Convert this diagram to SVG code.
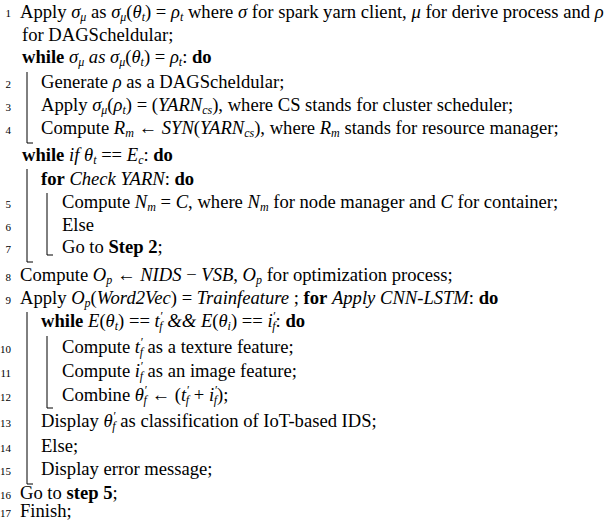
<svg xmlns="http://www.w3.org/2000/svg" width="612" height="520" viewBox="0 0 612 520">
<style>
text{font-family:"Liberation Serif","DejaVu Serif",serif;font-size:18.6px;fill:#000}
.n{font-size:11px;text-anchor:end}
.i{font-style:italic}
.b{font-weight:bold}
.s{font-size:12px}
.bar{fill:none;stroke:#000;stroke-width:1}
</style>
<rect width="612" height="520" fill="#fff"/>
<g id="bars">
<path class="bar" d="M27 72V143H33"/>
<path class="bar" d="M27 169V262H33"/>
<path class="bar" d="M47 193V255H53"/>
<path class="bar" d="M27 312V484H33"/>
<path class="bar" d="M47 336V408H53"/>
</g>
<g id="lines">
<text class="n" x="11" y="17">1</text>
<text x="20" y="18">Apply <tspan class="i">σ</tspan><tspan class="i s" dy="3">μ</tspan><tspan dy="-3"> as </tspan><tspan class="i">σ</tspan><tspan class="i s" dy="3">μ</tspan><tspan dy="-3">(</tspan><tspan class="i">θ</tspan><tspan class="i s" dy="3">t</tspan><tspan dy="-3">) = </tspan><tspan class="i">ρ</tspan><tspan class="i s" dy="3">t</tspan><tspan dy="-3"> where </tspan><tspan class="i">σ</tspan> for spark yarn client, <tspan class="i">μ</tspan> for derive process and <tspan class="i">ρ</tspan></text>
<text x="22" y="41">for DAGScheldular;</text>
<text x="22" y="63"><tspan class="b">while</tspan> <tspan class="i">σ</tspan><tspan class="i s" dy="3">μ</tspan><tspan class="i" dy="-3"> as σ</tspan><tspan class="i s" dy="3">μ</tspan><tspan dy="-3">(</tspan><tspan class="i">θ</tspan><tspan class="i s" dy="3">t</tspan><tspan dy="-3">) = </tspan><tspan class="i">ρ</tspan><tspan class="i s" dy="3">t</tspan><tspan dy="-3">: </tspan><tspan class="b">do</tspan></text>
<text class="n" x="11" y="88">2</text>
<text x="41" y="88">Generate <tspan class="i">ρ</tspan> as a DAGScheldular;</text>
<text class="n" x="11" y="111">3</text>
<text x="41" y="111">Apply <tspan class="i">σ</tspan><tspan class="i s" dy="3">μ</tspan><tspan dy="-3">(</tspan><tspan class="i">ρ</tspan><tspan class="i s" dy="3">t</tspan><tspan dy="-3">) = (</tspan><tspan class="i">YARN</tspan><tspan class="i s" dy="3">cs</tspan><tspan dy="-3">), where CS stands for cluster scheduler;</tspan></text>
<text class="n" x="11" y="134">4</text>
<text x="41" y="134">Compute <tspan class="i">R</tspan><tspan class="i s" dy="3">m</tspan><tspan dy="-3"> ← </tspan><tspan class="i">SYN</tspan>(<tspan class="i">YARN</tspan><tspan class="i s" dy="3">cs</tspan><tspan dy="-3">), where </tspan><tspan class="i">R</tspan><tspan class="i s" dy="3">m</tspan><tspan dy="-3"> stands for resource manager;</tspan></text>
<text x="22" y="161"><tspan class="b">while</tspan> <tspan class="i">if θ</tspan><tspan class="i s" dy="3">t</tspan><tspan dy="-3"> == </tspan><tspan class="i">E</tspan><tspan class="i s" dy="3">c</tspan><tspan dy="-3">: </tspan><tspan class="b">do</tspan></text>
<text x="41" y="185"><tspan class="b">for</tspan> <tspan class="i">Check YARN</tspan>: <tspan class="b">do</tspan></text>
<text class="n" x="11" y="208">5</text>
<text x="62" y="208">Compute <tspan class="i">N</tspan><tspan class="i s" dy="3">m</tspan><tspan dy="-3"> = </tspan><tspan class="i">C</tspan>, where <tspan class="i">N</tspan><tspan class="i s" dy="3">m</tspan><tspan dy="-3"> for node manager and </tspan><tspan class="i">C</tspan> for container;</text>
<text class="n" x="11" y="231">6</text>
<text x="62" y="231">Else</text>
<text class="n" x="11" y="253">7</text>
<text x="62" y="253">Go to <tspan class="b">Step 2</tspan>;</text>
<text class="n" x="11" y="281">8</text>
<text x="20" y="281">Compute <tspan class="i">O</tspan><tspan class="i s" dy="3">p</tspan><tspan dy="-3"> ← </tspan><tspan class="i">NIDS</tspan> − <tspan class="i">VSB</tspan>, <tspan class="i">O</tspan><tspan class="i s" dy="3">p</tspan><tspan dy="-3"> for optimization process;</tspan></text>
<text class="n" x="11" y="304">9</text>
<text x="20" y="304">Apply <tspan class="i">O</tspan><tspan class="i s" dy="3">p</tspan><tspan dy="-3">(</tspan><tspan class="i">Word2Vec</tspan>) = <tspan class="i">Trainfeature</tspan> ; <tspan class="b">for</tspan> <tspan class="i">Apply CNN-LSTM</tspan>: <tspan class="b">do</tspan></text>
<text x="41" y="327"><tspan class="b">while</tspan> <tspan class="i">E</tspan>(<tspan class="i">θ</tspan><tspan class="i s" dy="3">t</tspan><tspan dy="-3">) == </tspan><tspan class="i">t</tspan><tspan class="i s" dy="-7">′</tspan><tspan class="i s" dx="-3" dy="10">f</tspan><tspan class="i" dy="-3"> &amp;&amp; E</tspan>(<tspan class="i">θ</tspan><tspan class="i s" dy="3">i</tspan><tspan dy="-3">) == </tspan><tspan class="i">i</tspan><tspan class="i s" dy="-7">′</tspan><tspan class="i s" dx="-3" dy="10">f</tspan><tspan dy="-3">: </tspan><tspan class="b">do</tspan></text>
<text class="n" x="11" y="353">10</text>
<text x="62" y="353">Compute <tspan class="i">t</tspan><tspan class="i s" dy="-7">′</tspan><tspan class="i s" dx="-3" dy="10">f</tspan><tspan dy="-3"> as a texture feature;</tspan></text>
<text class="n" x="11" y="377">11</text>
<text x="62" y="377">Compute <tspan class="i">i</tspan><tspan class="i s" dy="-7">′</tspan><tspan class="i s" dx="-3" dy="10">f</tspan><tspan dy="-3"> as an image feature;</tspan></text>
<text class="n" x="11" y="401">12</text>
<text x="62" y="401">Combine <tspan class="i">θ</tspan><tspan class="i s" dy="-7">′</tspan><tspan class="i s" dx="-3" dy="10">f</tspan><tspan dy="-3"> ← (</tspan><tspan class="i">t</tspan><tspan class="i s" dy="-7">′</tspan><tspan class="i s" dx="-3" dy="10">f</tspan><tspan dy="-3"> + </tspan><tspan class="i">i</tspan><tspan class="i s" dy="-7">′</tspan><tspan class="i s" dx="-3" dy="10">f</tspan><tspan dy="-3">);</tspan></text>
<text class="n" x="11" y="427">13</text>
<text x="41" y="427">Display <tspan class="i">θ</tspan><tspan class="i s" dy="-7">′</tspan><tspan class="i s" dx="-3" dy="10">f</tspan><tspan dy="-3"> as classification of IoT-based IDS;</tspan></text>
<text class="n" x="11" y="452">14</text>
<text x="41" y="452">Else;</text>
<text class="n" x="11" y="475">15</text>
<text x="41" y="475">Display error message;</text>
<text class="n" x="11" y="499">16</text>
<text x="20" y="499">Go to <tspan class="b">step 5</tspan>;</text>
<text class="n" x="11" y="517">17</text>
<text x="20" y="517">Finish;</text>
</g>
</svg>
